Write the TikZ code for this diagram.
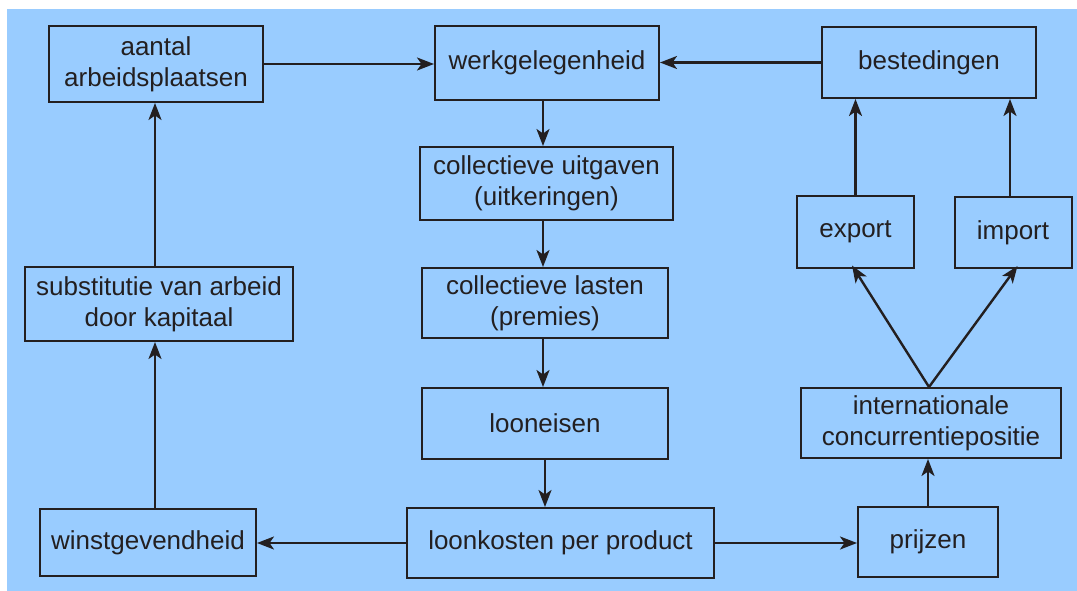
\documentclass[tikz,border=0pt]{standalone}
\usepackage{fontspec}
\setmainfont{Liberation Sans}
\usetikzlibrary{arrows.meta}
\definecolor{bg}{HTML}{99CCFF}
\definecolor{ink}{HTML}{231F20}
\begin{document}
\begin{tikzpicture}[x=1pt,y=-1pt,
  box/.style={draw=ink, line width=2pt, rectangle, inner sep=0pt, align=center,
    text=ink, font=\fontsize{26}{31}\selectfont},
  arr/.style={draw=ink, line width=2.4pt, -{Stealth[length=17pt,width=13pt,inset=4.5pt]}}]
\useasboundingbox (0,0) rectangle (1077,591);
\fill[white] (0,0) rectangle (1077,591);
\fill[bg] (7,9) rectangle (1077,591);
% nodes
\node[box, minimum width=214pt, minimum height=76pt] (aantal) at (156,64) {aantal\\arbeidsplaatsen};
\node[box, minimum width=224pt, minimum height=74pt] (werk) at (547,63) {werkgelegenheid};
\node[box, minimum width=214pt, minimum height=71pt] (bested) at (929,62.5) {bestedingen};
\node[box, minimum width=253pt, minimum height=73pt] (uitg) at (546.5,183.5) {collectieve uitgaven\\(uitkeringen)};
\node[box, minimum width=246pt, minimum height=70pt] (lasten) at (545,303) {collectieve lasten\\(premies)};
\node[box, minimum width=246pt, minimum height=71pt] (looneis) at (545,423.5) {looneisen};
\node[box, minimum width=307pt, minimum height=70pt] (loonk) at (560.5,543) {loonkosten per product};
\node[box, minimum width=216pt, minimum height=67pt] (winst) at (148,542.5) {winstgevendheid};
\node[box, minimum width=140pt, minimum height=70pt] (prijzen) at (928,542) {prijzen};
\node[box, minimum width=268pt, minimum height=74pt] (subst) at (159,304) {substitutie van arbeid\\door kapitaal};
\node[box, minimum width=117pt, minimum height=71pt] (export) at (855.5,232) {export};
\node[box, minimum width=117pt, minimum height=71pt] (import) at (1013,232.5) {import};
\node[box, minimum width=260pt, minimum height=70pt] (intl) at (931,423) {internationale\\concurrentiepositie};
% connectors
\coordinate (cx) at (543,0);
\coordinate (lx) at (155,0);
\draw[arr] (aantal.east) -- (aantal.east -| werk.west);
\draw[arr] (bested.west) -- (bested.west -| werk.east);
\draw[arr] (cx |- werk.south) -- (cx |- uitg.north);
\draw[arr] (cx |- uitg.south) -- (cx |- lasten.north);
\draw[arr] (cx |- lasten.south) -- (cx |- looneis.north);
\draw[arr] (looneis.south) -- (looneis.south |- loonk.north);
\draw[arr] (loonk.west) -- (loonk.west -| winst.east);
\draw[arr] (loonk.east) -- (loonk.east -| prijzen.west);
\draw[arr] (lx |- winst.north) -- (lx |- subst.south);
\draw[arr] (lx |- subst.north) -- (lx |- aantal.south);
\draw[arr] (prijzen.north) -- (prijzen.north |- intl.south);
\coordinate (split) at ([xshift=-2pt]intl.north);
\draw[arr] (split) -- ([xshift=-3.5pt,yshift=3pt]export.south);
\draw[arr] (split) -- ([xshift=4.5pt,yshift=3pt]import.south);
\draw[arr] (export.north) -- (export.north |- bested.south);
\draw[arr] ([xshift=-3pt]import.north) -- ([xshift=-3pt]import.north |- bested.south);
\end{tikzpicture}
\end{document}
